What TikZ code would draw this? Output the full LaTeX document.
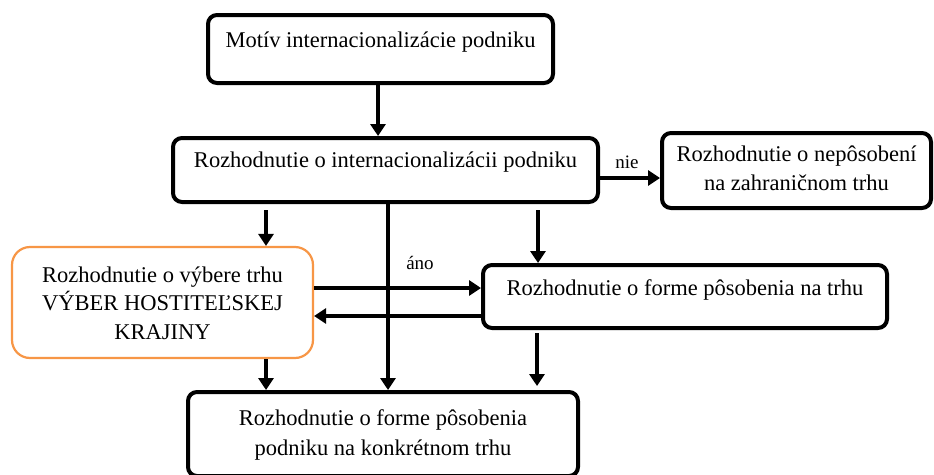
\documentclass[tikz,border=0pt]{standalone}
\usepackage{fontspec}
\setmainfont{Liberation Serif}
\usetikzlibrary{arrows.meta,calc}
\definecolor{boxorange}{HTML}{F79646}
\tikzset{
  x=1pt, y=-1pt,
  box/.style={draw=black, line width=4pt, rounded corners=9pt, fill=white, inner sep=0pt},
  obox/.style={draw=boxorange, line width=2.2pt, rounded corners=18pt, fill=white, inner sep=0pt},
  lbl/.style={font=\fontsize{22.5}{29}\selectfont, align=center, inner sep=0pt},
  small/.style={font=\fontsize{19}{22}\selectfont, inner sep=0pt},
  arr/.style={line width=4pt, -{Triangle[length=12pt,width=15pt]}},
}
\begin{document}
\begin{tikzpicture}
\useasboundingbox (0,0) rectangle (934,474);
% boxes
\node[box, minimum width=345pt, minimum height=68pt] (m) at (380.5,49) {};
\node[lbl] (mt) at (380.5,42) {Motív internacionalizácie podniku};
\node[box, minimum width=425pt, minimum height=64pt] (r) at (385.5,170) {};
\node[lbl] (rt) at (385.5,162) {Rozhodnutie o internacionalizácii podniku};
\node[box, minimum width=269pt, minimum height=75pt] (n) at (796.5,170.5) {};
\node[lbl] (nt) at (796.5,168) {Rozhodnutie o nepôsobení\\na zahraničnom trhu};
\node[obox, minimum width=301pt, minimum height=111pt] (v) at (162.5,302.5) {};
\node[lbl, font=\fontsize{22.5}{28.5}\selectfont] (vt) at (162.5,303) {Rozhodnutie o výbere trhu\\VÝBER HOSTITEĽSKEJ\\KRAJINY};
\node[box, minimum width=404pt, minimum height=63pt] (f) at (685,296.5) {};
\node[lbl] (ft) at (685,290) {Rozhodnutie o forme pôsobenia na trhu};
% bottom box runs off the lower edge of the page
\node[box, minimum width=390pt, minimum height=84pt] (b) at (383,434) {};
\node[lbl, font=\fontsize{22.5}{30}\selectfont] (bt) at (383,435) {Rozhodnutie o forme pôsobenia\\podniku na konkrétnom trhu};
% connectors
\draw[arr] (m.south -| 378,0) -- (r.north -| 378,0);
\draw[arr] (r.east |- 0,178) -- (n.west |- 0,178);
\draw[arr] ($(r.south -| 266,0)+(0,6)$) -- (v.north -| 266,0);
\draw[arr] (r.south -| 388,0) -- (b.north -| 388,0);
\draw[arr] ($(r.south -| 538,0)+(0,6)$) -- (f.north -| 538,0);
\draw[arr] (v.south -| 266,0) -- (b.north -| 266,0);
\draw[arr] ($(f.south -| 537,0)+(0,3)$) -- ($(b.north -| 537,0)+(0,-4)$);
\draw[arr] (v.east |- 0,288) -- (f.west |- 0,288);
\draw[arr] (f.west |- 0,316) -- (v.east |- 0,316);
% branch labels
\node[small] (nie) at (627,162) {nie};
\node[small] (ano) at (420,263) {áno};
\end{tikzpicture}
\end{document}
